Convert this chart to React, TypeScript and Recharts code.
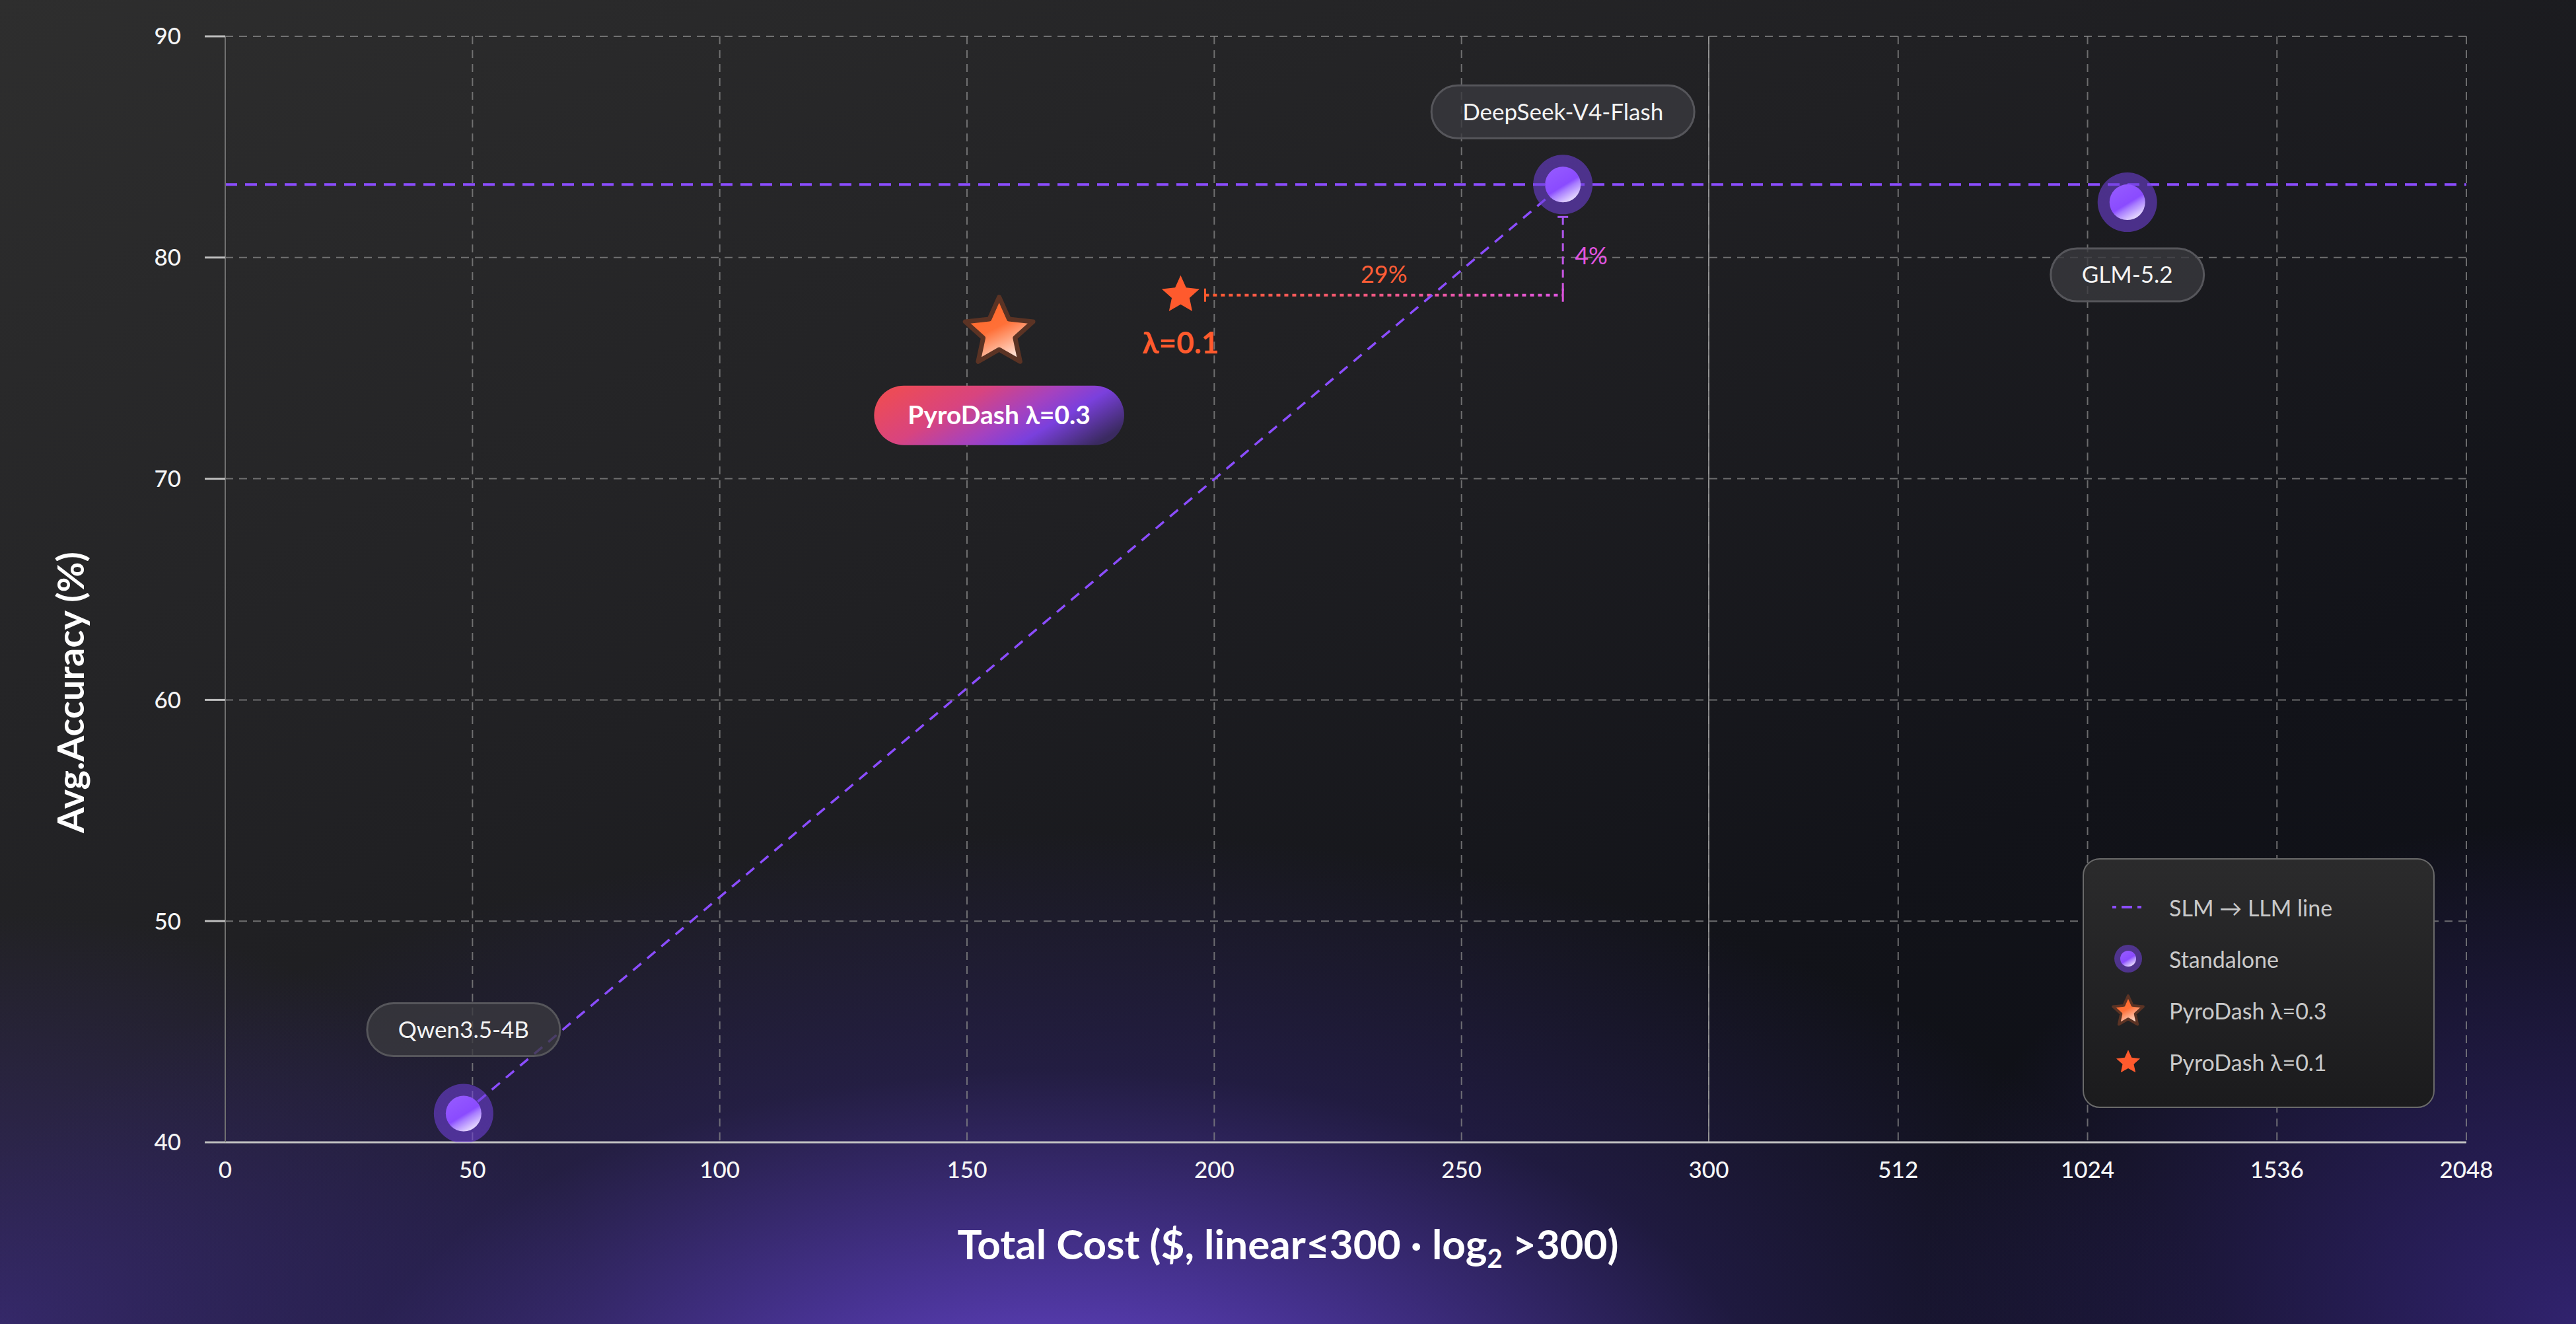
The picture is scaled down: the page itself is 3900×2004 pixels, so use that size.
import React from "react";
import {
  ComposedChart,
  Scatter,
  XAxis,
  YAxis,
  CartesianGrid,
  ReferenceLine,
  Legend,
} from "recharts";

const W = 3900;
const H = 2004;
const FONT = "Lato, 'Noto Sans', 'DejaVu Sans', sans-serif";

// axis ticks
const linearTicks = [0, 50, 100, 150, 200, 250, 300];
const log2Ticks = [300, 512, 1024, 1536, 2048];
const yTicks = [40, 50, 60, 70, 80, 90];

// standalone models
const modelNames = ["Qwen3.5-4B", "DeepSeek-V4-Flash", "GLM-5.2"];
const modelCost = [48.2, 270.5, 1115];
const modelAcc = [41.3, 83.3, 82.5];

// PyroDash runs
const pyroNames = ["PyroDash λ=0.3", "PyroDash λ=0.1"];
const pyroCost = [156.5, 193.2];
const pyroAcc = [76.6, 78.3];

const slmLineName = "SLM → LLM line";
const standaloneName = "Standalone";
const costCutLabel = "29%";
const accGapLabel = "4%";

const PURPLE = "#8b4dff";
const ORANGE = "#ff5a2d";
const MAGENTA = "#e055e0";

// linear up to 300, then equal-width log2 segments between the log ticks
const LOG_SEG = 38.3;
function costToX(c: number) {
  if (c <= 300) return c;
  const n = log2Ticks.length - 1;
  for (let i = 0; i < n; i++) {
    const a = log2Ticks[i];
    const b = log2Ticks[i + 1];
    if (c <= b || i === n - 1) {
      return 300 + (i + Math.log2(c / a) / Math.log2(b / a)) * LOG_SEG;
    }
  }
  return c;
}

const xTickCosts = [...linearTicks, ...log2Ticks.slice(1)];
const xTicks = xTickCosts.map(costToX);
const X_MAX = costToX(2048);

const standalone = modelNames.map((name, i) => ({ name, x: costToX(modelCost[i]), y: modelAcc[i] }));
const slmToLlm = [standalone[0], standalone[1]];
const pyro03 = [{ name: pyroNames[0], x: costToX(pyroCost[0]), y: pyroAcc[0] }];
const pyro01 = [{ name: pyroNames[1], x: costToX(pyroCost[1]), y: pyroAcc[1] }];

const formatX = (v: number) => {
  const i = xTicks.findIndex((t) => Math.abs(t - v) < 1e-6);
  return i >= 0 ? String(xTickCosts[i]) : "";
};

let measureCtx: CanvasRenderingContext2D | null = null;
function textW(text: string, font: string) {
  if (!measureCtx) measureCtx = document.createElement("canvas").getContext("2d");
  if (!measureCtx) return text.length * 18;
  measureCtx.font = font;
  return measureCtx.measureText(text).width;
}

function starPath(cx: number, cy: number, R: number, ratio = 0.47) {
  let d = "";
  for (let i = 0; i < 10; i++) {
    const rad = i % 2 === 0 ? R : R * ratio;
    const a = -Math.PI / 2 + (i * Math.PI) / 5;
    d += (i === 0 ? "M" : "L") + (cx + rad * Math.cos(a)).toFixed(2) + "," + (cy + rad * Math.sin(a)).toFixed(2);
  }
  return d + "Z";
}

function Orb({ cx, cy, halo, core, id }: any) {
  return (
    <g>
      <defs>
        <linearGradient id={id} x1="0.2" y1="0.1" x2="0.75" y2="1">
          <stop offset="0" stopColor="#9458ff" />
          <stop offset="0.5" stopColor="#8a4bff" />
          <stop offset="0.62" stopColor="#a77cff" />
          <stop offset="1" stopColor="#f1e9ff" />
        </linearGradient>
      </defs>
      <circle cx={cx} cy={cy} r={halo} fill="#6e40d8" fillOpacity={0.58} />
      <circle cx={cx} cy={cy} r={core} fill={`url(#${id})`} />
    </g>
  );
}

function GradStar({ cx, cy, R, id, sw }: any) {
  return (
    <g>
      <defs>
        <linearGradient id={id} x1="0.3" y1="0.2" x2="0.72" y2="1">
          <stop offset="0" stopColor="#ff6a2c" />
          <stop offset="0.35" stopColor="#ff7038" />
          <stop offset="1" stopColor="#fff1ea" />
        </linearGradient>
      </defs>
      <path d={starPath(cx, cy, R)} fill={`url(#${id})`} stroke="#5b3324" strokeWidth={sw} strokeLinejoin="round" />
    </g>
  );
}

const pillOffset: Record<string, number> = {
  "Qwen3.5-4B": -127,
  "DeepSeek-V4-Flash": -110,
  "GLM-5.2": 110,
};

function ModelPill({ cx, cy, text }: any) {
  const fs = 35;
  const w = textW(text, `400 ${fs}px Lato`) + 94;
  const h = 80;
  return (
    <g>
      <rect x={cx - w / 2} y={cy - h / 2} width={w} height={h} rx={h / 2} fill="#3a3a3f" fillOpacity={0.78} stroke="#56565b" strokeWidth={3} />
      <text x={cx} y={cy} dy="0.35em" textAnchor="middle" fontSize={fs} fontFamily={FONT} fill="#f3f3f3">
        {text}
      </text>
    </g>
  );
}

const EmptyShape = () => <g />;

function StandaloneShape(props: any) {
  const { cx, cy, payload, index } = props;
  if (cx == null || cy == null) return <g />;
  return (
    <g>
      <Orb cx={cx} cy={cy} halo={45} core={27} id={`orb-${index}`} />
      <ModelPill cx={cx} cy={cy + (pillOffset[payload.name] ?? -110)} text={payload.name} />
    </g>
  );
}

function Star03Shape(props: any) {
  const { cx, cy, payload } = props;
  if (cx == null || cy == null) return <g />;
  const fs = 39;
  const label = payload.name;
  const w = textW(label, `700 ${fs}px Lato`) + 102;
  const h = 90;
  const py = cy + 125;
  return (
    <g>
      <defs>
        <linearGradient id="pill03Fill" x1="0" y1="0.3" x2="1" y2="0.7">
          <stop offset="0" stopColor="#ec4b58" />
          <stop offset="0.3" stopColor="#d8447f" />
          <stop offset="0.55" stopColor="#a542bf" />
          <stop offset="0.73" stopColor="#7a40dd" />
          <stop offset="1" stopColor="#3a2a60" />
        </linearGradient>
      </defs>
      <GradStar cx={cx} cy={cy} R={54} id="star03Fill" sw={7} />
      <rect x={cx - w / 2} y={py - h / 2} width={w} height={h} rx={h / 2} fill="url(#pill03Fill)" />
      <text x={cx} y={py} dy="0.35em" textAnchor="middle" fontSize={fs} fontWeight={700} fill="#ffffff" fontFamily={FONT}>
        {label}
      </text>
    </g>
  );
}

function Star01Shape(props: any) {
  const { cx, cy, payload } = props;
  if (cx == null || cy == null) return <g />;
  const short = String(payload.name).split(" ").slice(-1)[0];
  return (
    <g>
      <path d={starPath(cx, cy, 30)} fill={ORANGE} />
      <text x={cx} y={cy + 88} textAnchor="middle" fontSize={46} fontWeight={700} fill={ORANGE} fontFamily={FONT}>
        {short}
      </text>
    </g>
  );
}

function CostGapShape(props: any) {
  const { x1, y1, x2 } = props;
  const sx = x1 + 37;
  const ex = x2;
  const y = y1;
  return (
    <g>
      <defs>
        <linearGradient id="costGap" gradientUnits="userSpaceOnUse" x1={sx} y1={y} x2={ex} y2={y}>
          <stop offset="0" stopColor={ORANGE} />
          <stop offset="1" stopColor={MAGENTA} />
        </linearGradient>
      </defs>
      <line x1={sx} y1={y} x2={ex} y2={y} stroke="url(#costGap)" strokeWidth={4} strokeDasharray="6 6" />
      <line x1={sx} y1={y - 10} x2={sx} y2={y + 10} stroke={ORANGE} strokeWidth={3} />
      <line x1={ex} y1={y - 10} x2={ex} y2={y + 10} stroke={MAGENTA} strokeWidth={3} />
      <text x={(sx + ex) / 2} y={y - 19} textAnchor="middle" fontSize={36} fill="#ff5d36" fontFamily={FONT}>
        {costCutLabel}
      </text>
    </g>
  );
}

function AccGapShape(props: any) {
  const { x1, y1, y2 } = props;
  const x = x1;
  const sy = y1 + 49;
  const ey = y2;
  return (
    <g>
      <defs>
        <linearGradient id="accGap" gradientUnits="userSpaceOnUse" x1={x} y1={sy} x2={x} y2={ey}>
          <stop offset="0" stopColor="#a455f0" />
          <stop offset="1" stopColor="#d655dc" />
        </linearGradient>
      </defs>
      <line x1={x} y1={sy} x2={x} y2={ey} stroke="url(#accGap)" strokeWidth={3} strokeDasharray="12 8" />
      <line x1={x - 8} y1={sy} x2={x + 8} y2={sy} stroke="#a455f0" strokeWidth={3} />
      <text x={x + 18} y={(sy + ey) / 2} dy="0.35em" fontSize={36} fill={MAGENTA} fontFamily={FONT}>
        {accGapLabel}
      </text>
    </g>
  );
}

const legendOrder = [slmLineName, standaloneName, pyroNames[0], pyroNames[1]];

function LegendIcon({ name }: { name: string }) {
  const cx = 40;
  const cy = 39;
  if (name === slmLineName)
    return <line x1={cx - 24} y1={cy} x2={cx + 24} y2={cy} stroke={PURPLE} strokeWidth={4} strokeDasharray="6 8 16 8 6" />;
  if (name === standaloneName) return <Orb cx={cx} cy={cy} halo={21} core={12} id="legend-orb" />;
  if (name === pyroNames[0]) return <GradStar cx={cx} cy={cy + 2} R={24} id="legend-star03" sw={4} />;
  return <path d={starPath(cx, cy + 1, 19)} fill={ORANGE} />;
}

function LegendBox(props: any) {
  const items = [...(props.payload ?? [])].sort(
    (a: any, b: any) => legendOrder.indexOf(a.value) - legendOrder.indexOf(b.value)
  );
  return (
    <div
      style={{
        boxSizing: "border-box",
        width: 533,
        height: 378,
        borderRadius: 26,
        border: "2px solid #6a6a6a",
        background: "linear-gradient(180deg, #2b2b2c 0%, #1b1b1d 100%)",
        paddingTop: 33,
        fontFamily: FONT,
      }}
    >
      {items.map((entry: any) => (
        <div key={entry.value} style={{ display: "flex", alignItems: "center", height: 78 }}>
          <svg width={80} height={78} style={{ marginLeft: 27, display: "block" }}>
            <LegendIcon name={entry.value} />
          </svg>
          <span style={{ marginLeft: 22, fontSize: 34, color: "#c9c9c9", whiteSpace: "nowrap" }}>{entry.value}</span>
        </div>
      ))}
    </div>
  );
}

const tickStyle = { fill: "#f5f5f5", fontSize: 35, fontFamily: FONT, fontWeight: 500 };

export default function App() {
  return (
    <div
      style={{
        position: "absolute",
        left: 0,
        top: 0,
        width: W,
        height: H,
        overflow: "hidden",
        fontFamily: FONT,
        background: [
          "radial-gradient(ellipse 1800px 900px at 1600px 2160px, rgba(104,70,208,1) 0%, rgba(84,58,176,0.78) 28%, rgba(52,38,118,0.42) 60%, rgba(30,22,70,0) 100%)",
          "radial-gradient(ellipse 1000px 760px at 3900px 2004px, rgba(58,40,132,0.8) 0%, rgba(30,22,70,0) 100%)",
          "radial-gradient(ellipse 900px 620px at 0px 2004px, rgba(64,46,134,0.7) 0%, rgba(0,0,0,0) 100%)",
          "linear-gradient(to bottom right, #2e2e2e 0%, #202023 40%, #121319 70%, #0b0d15 100%)",
        ].join(", "),
      }}
    >
      <ComposedChart width={W} height={H} margin={{ top: 55, right: 166, bottom: 0, left: 0 }}>
        <CartesianGrid stroke="#8a8a8a" strokeOpacity={0.75} strokeDasharray="12 9" strokeWidth={2} />
        <XAxis
          type="number"
          dataKey="x"
          domain={[0, X_MAX]}
          ticks={xTicks}
          interval={0}
          allowDataOverflow
          tickFormatter={formatX}
          height={275}
          tickLine={false}
          tickSize={0}
          tickMargin={29}
          axisLine={{ stroke: "#c2c2c2", strokeWidth: 3 }}
          tick={tickStyle}
          label={() => (
            <text x={W / 2} y={1906} textAnchor="middle" fontSize={62} fontWeight={700} fill="#ffffff" fontFamily={FONT}>
              Total Cost ($, linear≤300 · log
              <tspan fontSize={40} dy={13}>
                2
              </tspan>
              <tspan dy={-13}> &gt;300)</tspan>
            </text>
          )}
        />
        <YAxis
          type="number"
          dataKey="y"
          domain={[40, 90]}
          ticks={yTicks}
          interval={0}
          allowDataOverflow
          width={341}
          tickSize={31}
          tickMargin={36}
          tickLine={{ stroke: "#bdbdbd", strokeWidth: 3 }}
          axisLine={{ stroke: "#707070", strokeWidth: 2 }}
          tick={tickStyle}
          label={() => (
            <text
              x={105}
              y={1048}
              transform="rotate(-90 105 1048)"
              textAnchor="middle"
              dominantBaseline="central"
              fontSize={56}
              fontWeight={700}
              fill="#ffffff"
              fontFamily={FONT}
            >
              Avg.Accuracy (%)
            </text>
          )}
        />
        <ReferenceLine x={costToX(300)} stroke="#9a9a9a" strokeOpacity={0.85} strokeWidth={2} />
        <ReferenceLine y={modelAcc[1]} stroke={PURPLE} strokeWidth={4} strokeDasharray="18 12" />
        <Scatter
          name={slmLineName}
          data={slmToLlm}
          fill={PURPLE}
          line={{ stroke: PURPLE, strokeWidth: 3.5, strokeDasharray: "16 12" }}
          lineType="joint"
          shape={EmptyShape}
          isAnimationActive={false}
        />
        <ReferenceLine
          segment={[
            { x: costToX(pyroCost[1]), y: pyroAcc[1] },
            { x: costToX(modelCost[1]), y: pyroAcc[1] },
          ]}
          shape={CostGapShape}
        />
        <ReferenceLine
          segment={[
            { x: costToX(modelCost[1]), y: modelAcc[1] },
            { x: costToX(modelCost[1]), y: pyroAcc[1] },
          ]}
          shape={AccGapShape}
        />
        <Scatter name={standaloneName} data={standalone} fill={PURPLE} shape={StandaloneShape} isAnimationActive={false} />
        <Scatter name={pyroNames[0]} data={pyro03} fill={ORANGE} shape={Star03Shape} isAnimationActive={false} />
        <Scatter name={pyroNames[1]} data={pyro01} fill={ORANGE} shape={Star01Shape} isAnimationActive={false} />
        <Legend
          content={LegendBox}
          layout="horizontal"
          verticalAlign="middle"
          align="center"
          wrapperStyle={{ left: 3153, top: 1299, width: 533, height: 378 }}
        />
      </ComposedChart>
    </div>
  );
}
